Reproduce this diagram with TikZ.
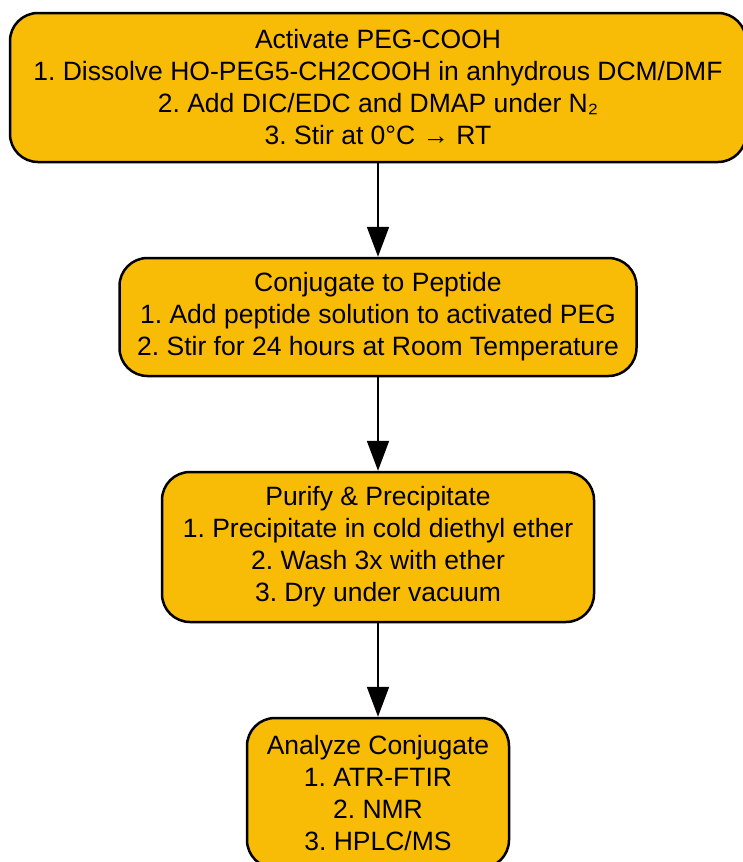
\documentclass[tikz,border=0pt]{standalone}
\usepackage{fontspec}
\setmainfont{Liberation Sans}
\usetikzlibrary{arrows.meta}
\definecolor{stepfill}{RGB}{249,188,6}
\frenchspacing

\begin{document}
\begin{tikzpicture}
  [x=1pt,y=-1pt,every node/.style={draw=black,line width=2.5pt,fill=stepfill,rounded corners=28pt,align=center,inner sep=0pt,font=\fontsize{26.5}{32}\selectfont}]
  \useasboundingbox (0,0) rectangle (742,862);
  \node[minimum width=736pt,minimum height=149pt] (1) at (378,87.5) {Activate PEG-COOH\\1. Dissolve HO-PEG5-CH2COOH in anhydrous DCM/DMF\\2. Add DIC/EDC and DMAP under N₂\\3. Stir at 0°C → RT};
  \node[minimum width=517pt,minimum height=118pt] (2) at (378,317) {Conjugate to Peptide\\1. Add peptide solution to activated PEG\\2. Stir for 24 hours at Room Temperature};
  \node[minimum width=432pt,minimum height=150pt] (3) at (378,547) {Purify \& Precipitate\\1. Precipitate in cold diethyl ether\\2. Wash 3x with ether\\3. Dry under vacuum};
  \node[minimum width=262pt,minimum height=150pt] (4) at (378,793) {Analyze Conjugate\\1. ATR-FTIR\\2. NMR\\3. HPLC/MS};

  \foreach \from/\to in {1/2,2/3,3/4}
    \draw[line width=2pt,-{Triangle[width=22pt,length=30pt]}] (\from) -- (\to);

\end{tikzpicture}
\end{document}
